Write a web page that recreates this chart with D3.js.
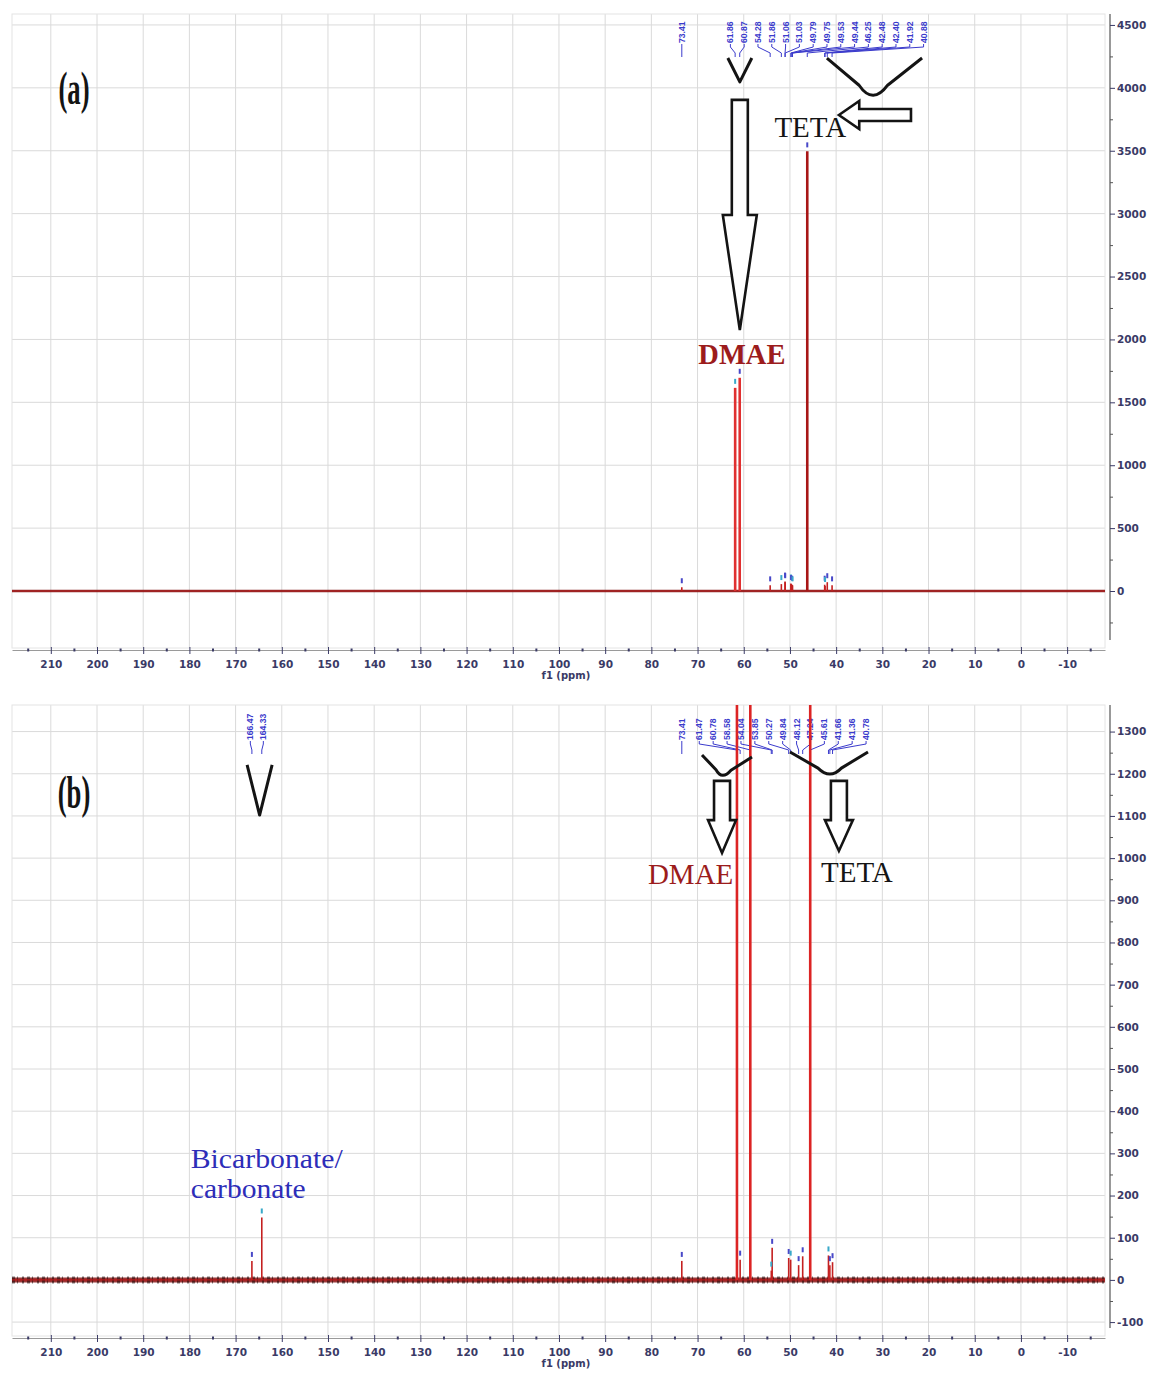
<!DOCTYPE html>
<html>
<head>
<meta charset="utf-8">
<script src="https://cdn.jsdelivr.net/npm/d3@7/dist/d3.min.js"></script>
<style>
  body { margin: 0; background: #fff; }
</style>
</head>
<body>
<svg id="chart" width="1152" height="1374" font-family="DejaVu Sans, sans-serif"></svg>
<script>
// ---- data -------------------------------------------------------------
const ppmTicks = [210, 200, 190, 180, 170, 160, 150, 140, 130, 120, 110, 100, 90, 80, 70, 60, 50, 40, 30, 20, 10, 0, -10];
const ppmMinorTicks = [215, 205, 195, 185, 175, 165, 155, 145, 135, 125, 115, 105, 95, 85, 75, 65, 55, 45, 35, 25, 15, 5, -5, -15];
const intensityTicksA = [0, 500, 1000, 1500, 2000, 2500, 3000, 3500, 4000, 4500];
const intensityMinorA = [-250, 250, 750, 1250, 1750, 2250, 2750, 3250, 3750, 4250];
const intensityTicksB = [-100, 0, 100, 200, 300, 400, 500, 600, 700, 800, 900, 1000, 1100, 1200, 1300];
const intensityMinorB = [-50, 50, 150, 250, 350, 450, 550, 650, 750, 850, 950, 1050, 1150, 1250];

// (a) 13C spectrum of the fresh TETA/DMAE blend
const peaksA_ppm = [166.9, 73.41, 61.86, 60.87, 54.28, 51.86, 51.06, 51.03, 49.79, 49.75, 49.53, 49.44, 46.25, 42.48, 42.40, 41.92, 40.88];
const peaksA_int = [8, 30, 1615, 1695, 45, 55, 75, 70, 60, 55, 50, 45, 3495, 50, 40, 70, 45];
const labelsA_solo = ["73.41"];
const labelsA_group = ["61.86", "60.87", "54.28", "51.86", "51.06", "51.03", "49.79", "49.75", "49.53", "49.44", "46.25", "42.48", "42.40", "41.92", "40.88"];

// (b) 13C spectrum after CO2 loading
const peaksB_ppm = [166.47, 164.33, 73.41, 61.47, 60.78, 58.58, 54.04, 53.85, 50.27, 49.84, 48.12, 47.24, 45.61, 41.66, 41.36, 40.78];
const peaksB_int = [45, 148, 45, 2500, 48, 2300, 22, 76, 52, 48, 35, 56, 2800, 58, 35, 42];
const labelsB_carb = ["166.47", "164.33"];
const labelsB_solo = ["73.41"];
const labelsB_group = ["61.47", "60.78", "58.58", "54.04", "53.85", "50.27", "49.84", "48.12", "47.24", "45.61", "41.66", "41.36", "40.78"];

// ---- layout -----------------------------------------------------------
const svg = d3.select("#chart");
const plotLeft = 12, plotRight = 1105, axisX = 1110;
const axisColor = "#3a3a66";
const gridColor = "#dadada";
const labelBlue = "#3b3bcc";
const serifFont = "Liberation Serif, Times New Roman, serif";

const x = d3.scaleLinear().domain([218.4, -18.2]).range([plotLeft, plotRight]);

function drawPanel(cfg) {
  const g = svg.append("g");
  const y = d3.scaleLinear().domain(cfg.yDomain).range([cfg.bottom, cfg.top]);
  const clipId = "clip-" + cfg.id;
  svg.append("clipPath").attr("id", clipId)
    .append("rect").attr("x", plotLeft).attr("y", cfg.top)
    .attr("width", plotRight - plotLeft).attr("height", cfg.bottom - cfg.top);

  // grid
  const grid = g.append("g");
  grid.selectAll("line.v").data(ppmTicks).join("line")
    .attr("x1", d => x(d)).attr("x2", d => x(d))
    .attr("y1", cfg.top).attr("y2", cfg.bottom)
    .attr("stroke", gridColor).attr("stroke-width", 1);
  grid.selectAll("line.h").data(cfg.yTicks).join("line")
    .attr("x1", plotLeft).attr("x2", plotRight)
    .attr("y1", d => y(d)).attr("y2", d => y(d))
    .attr("stroke", gridColor).attr("stroke-width", 1);
  grid.append("rect").attr("x", plotLeft).attr("y", cfg.top)
    .attr("width", plotRight - plotLeft).attr("height", cfg.bottom - cfg.top)
    .attr("fill", "none").attr("stroke", "#e4e4e4");

  // bottom ppm axis
  const bx = g.append("g").attr("transform", `translate(0,${cfg.bottom + 2})`)
    .call(d3.axisBottom(x).tickValues(ppmTicks).tickSize(4).tickSizeOuter(0).tickPadding(7).tickFormat(d => String(d)));
  bx.select(".domain").attr("stroke", "#9a9a9a");
  bx.selectAll(".tick line").attr("stroke", axisColor).attr("y1", -3);
  bx.selectAll(".tick text").attr("fill", axisColor).attr("font-size", 10.5).attr("font-weight", "bold")
    .attr("font-family", "DejaVu Sans");
  const bm = g.append("g").attr("transform", `translate(0,${cfg.bottom + 2})`)
    .call(d3.axisBottom(x).tickValues(ppmMinorTicks).tickSize(1.5).tickSizeOuter(0).tickFormat(""));
  bm.select(".domain").remove();
  bm.selectAll(".tick line").attr("stroke", axisColor).attr("stroke-width", 2).attr("y1", -1.5);
  g.append("text").attr("x", x(98.5)).attr("y", cfg.bottom + 31)
    .attr("fill", axisColor).attr("font-size", 10).attr("font-weight", "bold")
    .attr("text-anchor", "middle").text("f1 (ppm)");

  // right intensity axis
  const ry = g.append("g").attr("transform", `translate(${axisX},0)`)
    .call(d3.axisRight(y).tickValues(cfg.yTicks).tickSize(5).tickSizeOuter(0).tickPadding(2).tickFormat(d => String(d)));
  ry.select(".domain").attr("stroke", "#555").attr("stroke-width", 1.2)
    .attr("d", `M0,${cfg.top}V${cfg.bottom - 8}`);
  ry.selectAll(".tick line").attr("stroke", axisColor);
  ry.selectAll(".tick text").attr("fill", axisColor).attr("font-size", 10.5).attr("font-weight", "bold")
    .attr("font-family", "DejaVu Sans");
  const rm = g.append("g").attr("transform", `translate(${axisX},0)`)
    .call(d3.axisRight(y).tickValues(cfg.yMinor).tickSize(3).tickSizeOuter(0).tickFormat(""));
  rm.select(".domain").remove();
  rm.selectAll(".tick line").attr("stroke", "#555");

  // peak labels with connectors
  const lab = g.append("g");
  cfg.labelGroups.forEach(grp => {
    const px = grp.labels.map(s => x(+s));
    const c = d3.mean(px) + (grp.shift || 0);
    grp.labels.forEach((s, i) => {
      const lx = c + (i - (grp.labels.length - 1) / 2) * grp.gap;
      const yb = cfg.labelBottom;
      lab.append("text")
        .attr("transform", `translate(${lx + 3},${yb}) rotate(-90)`)
        .attr("font-family", "Liberation Sans, Arial, sans-serif")
        .attr("font-size", 8.6).attr("font-weight", "bold")
        .attr("fill", labelBlue).text(s);
      lab.append("path")
        .attr("d", `M${lx},${yb + 1}V${yb + 4}L${px[i]},${yb + 10}V${yb + 14}`)
        .attr("fill", "none").attr("stroke", labelBlue).attr("stroke-width", 1);
    });
  });

  // spectrum
  const spec = g.append("g").attr("clip-path", `url(#${clipId})`);
  const base = d3.line()([[plotLeft, y(0)], [plotRight, y(0)]]);
  spec.append("path").attr("d", base).attr("stroke", cfg.baseDark).attr("stroke-width", cfg.baseWidth)
    .attr("fill", "none").attr("opacity", 0.85);
  if (cfg.baseDash) {
    spec.append("path").attr("d", base).attr("stroke", "#1c0a0a").attr("stroke-width", cfg.baseWidth + 2)
      .attr("stroke-dasharray", cfg.baseDash).attr("fill", "none").attr("opacity", 0.55);
  }
  spec.append("path").attr("d", base).attr("stroke", "#b31818").attr("stroke-width", 1.2).attr("fill", "none");
  const peaks = cfg.ppm.map((p, i) => ({ p, v: cfg.int[i] }));
  spec.selectAll("line.pk").data(peaks).join("line")
    .attr("x1", d => x(d.p)).attr("x2", d => x(d.p))
    .attr("y1", y(0)).attr("y2", d => y(d.v))
    .attr("stroke", d => d.v > 1000 ? cfg.bigColor(d) : "#c42020")
    .attr("stroke-width", d => d.v > 1000 ? 2.6 : 1.6);
  // peak-pick markers
  spec.selectAll("rect.mk").data(peaks.filter(d => d.v > 15 && y(d.v) > cfg.top + 5)).join("rect")
    .attr("x", d => x(d.p) - 1).attr("y", d => y(d.v) - 9)
    .attr("width", 2).attr("height", 5)
    .attr("fill", (d, i) => i % 3 === 1 ? "#39a9c9" : "#4848c8");

  return { g, y };
}

// ---- panel (a) ----------------------------------------------------------
const A = drawPanel({
  id: "a", top: 14, bottom: 648, yDomain: [-453, 4587],
  yTicks: intensityTicksA, yMinor: intensityMinorA,
  ppm: peaksA_ppm, int: peaksA_int,
  baseDark: "#7a0d0d", baseWidth: 2.4,
  bigColor: d => d.v > 3000 ? "#a81616" : "#e03030",
  labelBottom: 43,
  labelGroups: [
    { labels: labelsA_solo, gap: 14 },
    { labels: labelsA_group, gap: 13.8, shift: 35 }
  ]
});

// ---- panel (b) ----------------------------------------------------------
const B = drawPanel({
  id: "b", top: 705, bottom: 1336, yDomain: [-133, 1363],
  yTicks: intensityTicksB, yMinor: intensityMinorB,
  ppm: peaksB_ppm, int: peaksB_int,
  baseDark: "#8a1414", baseWidth: 5,
  baseDash: "3 2 1 4 2 3",
  bigColor: () => "#dc2424",
  labelBottom: 740,
  labelGroups: [
    { labels: labelsB_carb, gap: 13 },
    { labels: labelsB_solo, gap: 14 },
    { labels: labelsB_group, gap: 13.9, shift: -6 }
  ]
});

// ---- annotations ----------------------------------------------------------
const ink = "#141414";
function stroke(sel) { return sel.attr("fill", "none").attr("stroke", ink).attr("stroke-width", 3).attr("stroke-linejoin", "round"); }

function downArrow(g, cx, yTop, yNeck, yTip, shaftHalf, headHalf) {
  g.append("path").attr("d",
    `M${cx - shaftHalf},${yTop}H${cx + shaftHalf}V${yNeck}H${cx + headHalf}L${cx},${yTip}L${cx - headHalf},${yNeck}H${cx - shaftHalf}Z`)
    .attr("fill", "#fff").attr("stroke", ink).attr("stroke-width", 2.6).attr("stroke-linejoin", "miter");
}
function leftArrow(g, tipX, cy, neckX, tailX, shaftHalf, headHalf) {
  g.append("path").attr("d",
    `M${tipX},${cy}L${neckX},${cy - headHalf}V${cy - shaftHalf}H${tailX}V${cy + shaftHalf}H${neckX}V${cy + headHalf}Z`)
    .attr("fill", "#fff").attr("stroke", ink).attr("stroke-width", 2.6);
}
function vee(g, cx, yTop, yTip, half) {
  stroke(g.append("path")).attr("d", `M${cx - half},${yTop}L${cx},${yTip}L${cx + half},${yTop}`);
}
function bowl(g, x0, y0, xb, yb, x1, y1) {
  stroke(g.append("path")).attr("d",
    `M${x0},${y0}L${xb - (xb - x0) * 0.3},${yb - (yb - y0) * 0.3}Q${xb},${yb + (yb - y0) * 0.22} ${xb + (x1 - xb) * 0.3},${yb - (yb - y1) * 0.3}L${x1},${y1}`);
}
function serif(g, tx, ty, str, opts) {
  const t = g.append("text").attr("x", tx).attr("y", ty)
    .attr("font-family", serifFont)
    .attr("font-size", opts.size || 29).attr("font-weight", opts.weight || "normal")
    .attr("fill", opts.fill || ink).attr("text-anchor", opts.anchor || "middle").text(str);
  if (opts.length) t.attr("textLength", opts.length).attr("lengthAdjust", "spacingAndGlyphs");
  return t;
}
function panelTag(g, tx, ty, str) {
  g.append("text").attr("transform", `translate(${tx},${ty}) scale(0.58,1)`)
    .attr("font-family", serifFont).attr("font-size", 46).attr("font-weight", "bold")
    .attr("text-anchor", "middle").attr("fill", ink).text(str);
}

// (a)
{
  const g = A.g, y = A.y;
  panelTag(g, 74, 104, "(a)");
  vee(g, x(60.85), y(4237), y(4047), 12);
  bowl(g, x(42.0), y(4237), x(32.05), y(3928), x(21.4), y(4237));
  leftArrow(g, x(39.4), y(3784), x(35.0), x(23.8), 6, 14);
  downArrow(g, x(60.85), y(3904), y(2989), y(2075), 8, 17);
  serif(g, x(45.6), y(3609), "TETA", { size: 29 });
  serif(g, x(60.4), y(1805), "DMAE", { size: 28.5, weight: "bold", fill: "#9c1c1c" });
}
// (b)
{
  const g = B.g, y = B.y;
  panelTag(g, 74, 808, "(b)");
  vee(g, x(164.8), y(1221), y(1102), 12.5);
  bowl(g, 702, 755, 722, 776, 752, 757);
  bowl(g, 790, 752, 830, 775, 868, 752);
  downArrow(g, x(64.7), y(1183), y(1090), y(1012), 8, 14);
  downArrow(g, x(39.4), y(1183), y(1090), y(1017), 8, 14);
  serif(g, x(71.5), y(938), "DMAE", { size: 29, fill: "#9c1c1c" });
  serif(g, x(35.5), y(943), "TETA", { size: 29 });
  serif(g, x(179.7), y(266), "Bicarbonate/", { size: 27, fill: "#2d2db8", anchor: "start", length: 152 });
  serif(g, x(179.7), y(195), "carbonate", { size: 27, fill: "#2d2db8", anchor: "start", length: 115 });
}
</script>
</body>
</html>
